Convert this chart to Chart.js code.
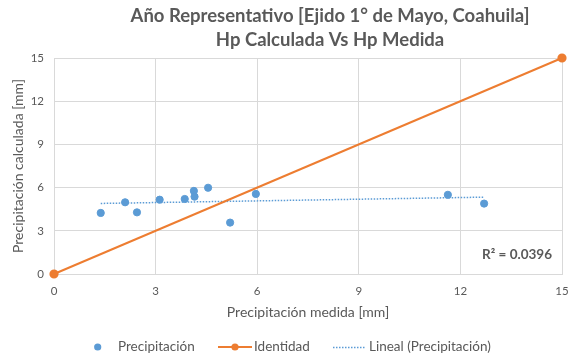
<!DOCTYPE html>
<html>
<head>
<meta charset="utf-8">
<script src="https://cdn.jsdelivr.net/npm/chart.js@4.4.0/dist/chart.umd.min.js"></script>
<style>
  html, body { margin: 0; padding: 0; background: #fff; }
  #wrap { width: 568px; height: 360px; position: relative; }
</style>
</head>
<body>
<div id="wrap"><canvas id="myChart"></canvas></div>
<script>
// data
var medida = [1.38, 2.10, 2.45, 3.12, 3.86, 4.13, 4.15, 4.55, 5.20, 5.96, 11.63, 12.70];
var calculada = [4.24, 4.98, 4.28, 5.16, 5.21, 5.77, 5.37, 5.99, 3.57, 5.56, 5.50, 4.89];
var identidadX = [0, 15];
var identidadY = [0, 15];
var axisTicks = [0, 3, 6, 9, 12, 15];
var seriesNames = ["Precipitación", "Identidad", "Lineal (Precipitación)"];
var titleLines = ["Año Representativo [Ejido 1° de Mayo, Coahuila]", "Hp Calculada Vs Hp Medida"];
var r2Text = "R² = 0.0396";

var blue = "#5b9bd5";
var orange = "#ed7d31";
var grey = "#595959";
var FONT = "Lato, 'Open Sans', sans-serif";

// Excel style linear trendline (least squares) over the points
function linearFit(xs, ys) {
  var n = xs.length, sx = 0, sy = 0, sxx = 0, sxy = 0;
  for (var i = 0; i < n; i++) {
    sx += xs[i]; sy += ys[i]; sxx += xs[i] * xs[i]; sxy += xs[i] * ys[i];
  }
  var m = (n * sxy - sx * sy) / (n * sxx - sx * sx);
  var b = (sy - m * sx) / n;
  return { m: m, b: b };
}
var fit = linearFit(medida, calculada);
var xMin = Math.min.apply(null, medida), xMax = Math.max.apply(null, medida);
var trend = [{ x: xMin, y: fit.m * xMin + fit.b }, { x: xMax, y: fit.m * xMax + fit.b }];

// title, R² label and legend
var extras = {
  id: "extras",
  afterDraw: function(chart) {
    var ctx = chart.ctx, a = chart.chartArea;
    ctx.save();
    ctx.fillStyle = grey;
    ctx.textAlign = "center";
    ctx.textBaseline = "middle";
    ctx.font = "bold 18.5px " + FONT;
    ctx.fillText(titleLines[0], 330, 16);
    ctx.fillText(titleLines[1], 330, 40.5);

    ctx.font = "bold 13.5px " + FONT;
    ctx.textAlign = "right";
    ctx.fillText(r2Text, a.right - 10, a.bottom - 19);

    // legend
    var ly = 347;
    ctx.font = "13.5px " + FONT;
    ctx.textAlign = "left";
    ctx.fillStyle = blue;
    ctx.beginPath(); ctx.arc(97.7, ly, 3.6, 0, Math.PI * 2); ctx.fill();
    ctx.fillStyle = grey;
    ctx.fillText(seriesNames[0], 118, ly);

    ctx.strokeStyle = orange; ctx.lineWidth = 2;
    ctx.beginPath(); ctx.moveTo(218, ly); ctx.lineTo(252, ly); ctx.stroke();
    ctx.fillStyle = orange;
    ctx.beginPath(); ctx.arc(235, ly, 3.6, 0, Math.PI * 2); ctx.fill();
    ctx.fillStyle = grey;
    ctx.fillText(seriesNames[1], 254, ly);

    ctx.strokeStyle = blue; ctx.lineWidth = 1.3;
    ctx.setLineDash([1.5, 1.5]);
    ctx.beginPath(); ctx.moveTo(333, ly + 0.5); ctx.lineTo(365, ly + 0.5); ctx.stroke();
    ctx.setLineDash([]);
    ctx.fillText(seriesNames[2], 369, ly);
    ctx.restore();
  }
};

new Chart("myChart", {
  type: "scatter",
  data: {
    datasets: [{
      label: seriesNames[0],
      data: medida.map(function(x, i) { return { x: x, y: calculada[i] }; }),
      backgroundColor: blue,
      borderColor: blue,
      pointRadius: 3.6,
      pointHoverRadius: 3.6,
      clip: false,
      order: 1
    }, {
      label: seriesNames[1],
      data: identidadX.map(function(x, i) { return { x: x, y: identidadY[i] }; }),
      showLine: true,
      backgroundColor: orange,
      borderColor: orange,
      borderWidth: 2,
      pointRadius: 3.6,
      clip: false,
      order: 2
    }, {
      label: seriesNames[2],
      data: trend,
      showLine: true,
      borderColor: blue,
      borderWidth: 1.5,
      borderDash: [1.5, 1.5],
      pointRadius: 0,
      order: 3
    }]
  },
  options: {
    responsive: true,
    maintainAspectRatio: false,
    animation: false,
    layout: { padding: { top: 58, right: 5, left: 10, bottom: 0 } },
    plugins: {
      title: { display: false },
      tooltip: { enabled: false },
      legend: { display: false }
    },
    scales: {
      x: {
        type: "linear", min: 0, max: 15,
        afterBuildTicks: function(s) { s.ticks = axisTicks.map(function(v) { return { value: v }; }); },
        afterFit: function(s) { s.height = 86; s.paddingLeft = 0; s.paddingRight = 0; },
        grid: { color: "#d9d9d9", drawTicks: false },
        border: { color: "#d9d9d9" },
        ticks: { color: grey, font: { family: FONT, size: 11.5 }, padding: 10, maxRotation: 0 },
        title: { display: true, text: "Precipitación medida [mm]", color: grey, font: { family: FONT, size: 14 }, padding: { top: 0, bottom: 39.6 } }
      },
      y: {
        type: "linear", min: 0, max: 15,
        afterBuildTicks: function(s) { s.ticks = axisTicks.map(function(v) { return { value: v }; }); },
        afterFit: function(s) { s.width = 44; s.paddingTop = 0; s.paddingBottom = 0; },
        grid: { color: "#d9d9d9", drawTicks: false },
        border: { color: "#d9d9d9" },
        ticks: { color: grey, font: { family: FONT, size: 11.5 }, padding: 10 },
        title: { display: true, text: "Precipitación calculada [mm]", color: grey, font: { family: FONT, size: 14 }, padding: { top: 0, bottom: 0 } }
      }
    }
  },
  plugins: [extras]
});
</script>
</body>
</html>
